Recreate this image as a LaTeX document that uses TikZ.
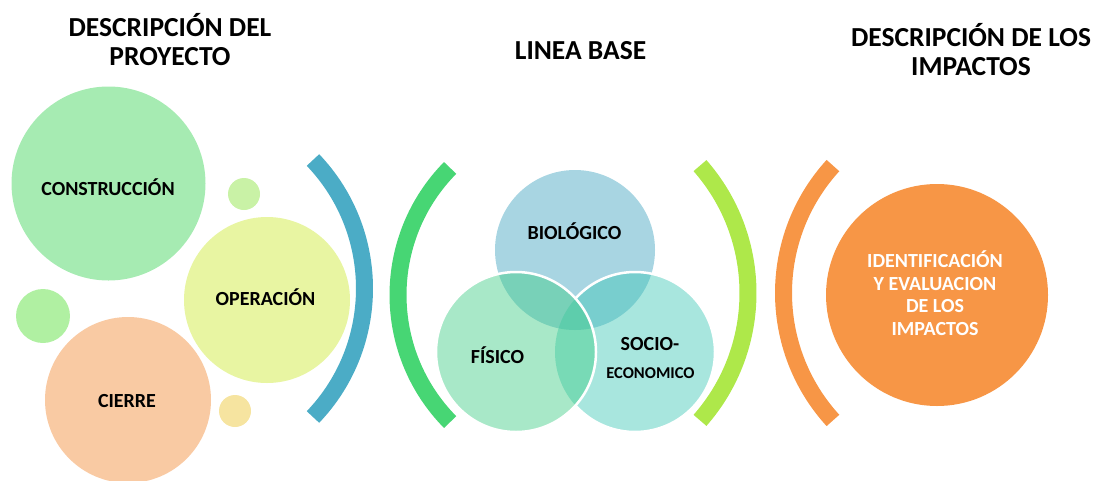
\documentclass[tikz,border=0pt]{standalone}
\usepackage{fontspec}
\setmainfont{Carlito}

\definecolor{construc}{HTML}{A6EBB2}
\definecolor{operac}{HTML}{E8F5A2}
\definecolor{cierrec}{HTML}{F9CAA3}
\definecolor{bolaverde}{HTML}{C9F2A6}
\definecolor{bolaverdeb}{HTML}{B0F0A2}
\definecolor{bolaamarilla}{HTML}{F6E4A0}
\definecolor{arcoazul}{HTML}{4BACC6}
\definecolor{arcoverde}{HTML}{47D674}
\definecolor{arcolima}{HTML}{AEE84A}
\definecolor{naranja}{HTML}{F79646}
\definecolor{bioc}{HTML}{3EA2BF}
\definecolor{fisc}{HTML}{3ECC85}
\definecolor{socc}{HTML}{3EC7B6}

\begin{document}
\begin{tikzpicture}[x=1pt, y=-1pt,
        titulo/.style={font=\fontsize{27.5}{29}\selectfont\bfseries, align=center, inner sep=0},
        texto/.style={font=\fontsize{20}{22.5}\selectfont\bfseries, inner sep=0, anchor=base},
        burbuja/.style={circle, inner sep=0, minimum size=#1},
        arco/.style={line width=17pt}]
        \useasboundingbox (0,0) rectangle (1094,480);

        % titulos
        \node[titulo] (tproyecto) at (170,39.5) {DESCRIPCIÓN DEL\\PROYECTO};
        \node[titulo] (tlinea) at (580.5,50.5) {LINEA BASE};
        \node[titulo] (timpactos) at (971,50) {DESCRIPCIÓN DE LOS\\IMPACTOS};

        % descripcion del proyecto
        \foreach \x/\y/\r/\c in {244/194/16/bolaverde, 43/316/27/bolaverdeb, 235/411/16/bolaamarilla}
            \fill[\c] (\x,\y) circle[radius=\r];
        \node[burbuja=194pt, fill=construc] (construccion) at (108.5,183.5) {};
        \node[burbuja=166pt, fill=operac] (operacion) at (267,300) {};
        \node[burbuja=166pt, fill=cierrec] (cierre) at (128,400) {};
        \node[texto] (tconstruccion) at (108,195) {CONSTRUCCIÓN};
        \node[texto] (toperacion) at (265.5,305) {OPERACIÓN};
        \node[texto] (tcierre) at (127,407) {CIERRE};

        % parentesis
        \draw[arco, arcoazul] (178.5,288.5) ++(-43.7:186) arc[start angle=-43.7, end angle=43.7, radius=186];
        \draw[arco, arcoverde] (579,295) ++(135.4:181) arc[start angle=135.4, end angle=224.6, radius=181];
        \draw[arco, arcolima] (555,293) ++(-41.3:193) arc[start angle=-41.3, end angle=41.3, radius=193];
        \draw[arco, naranja] (972.5,293) ++(137.6:189) arc[start angle=137.6, end angle=222.4, radius=189];

        % linea base
        \node[burbuja=160pt, fill=bioc, fill opacity=.45] (biologico) at (575,250) {};
        \node[burbuja=160pt, fill=socc, fill opacity=.45] (socio) at (635,352) {};
        \node[burbuja=160pt, fill=fisc, fill opacity=.45] (fisico) at (516,352) {};
        \draw[white, line width=2.5pt] (socio.center) ++(-138:80) arc[start angle=-138, end angle=138, radius=80];
        \draw[white, line width=2.5pt] (fisico.center) circle[radius=80];
        \node[texto] (tbiologico) at (574.5,239) {BIOLÓGICO};
        \node[texto] (tfisico) at (497.5,363) {FÍSICO};
        \node[texto] (tsocio) at (650,350) {SOCIO-};
        \node[texto, font=\fontsize{16.5}{18}\selectfont\bfseries] (teconomico) at (650.5,378) {ECONOMICO};

        % impactos
        \node[burbuja=222pt, fill=naranja] (impactos) at (937,295) {};
        \node[texto, anchor=center, align=center, text=white] (timpactosc) at (935,293)
            {IDENTIFICACIÓN\\Y EVALUACION\\DE LOS\\IMPACTOS};

    \end{tikzpicture}
\end{document}
